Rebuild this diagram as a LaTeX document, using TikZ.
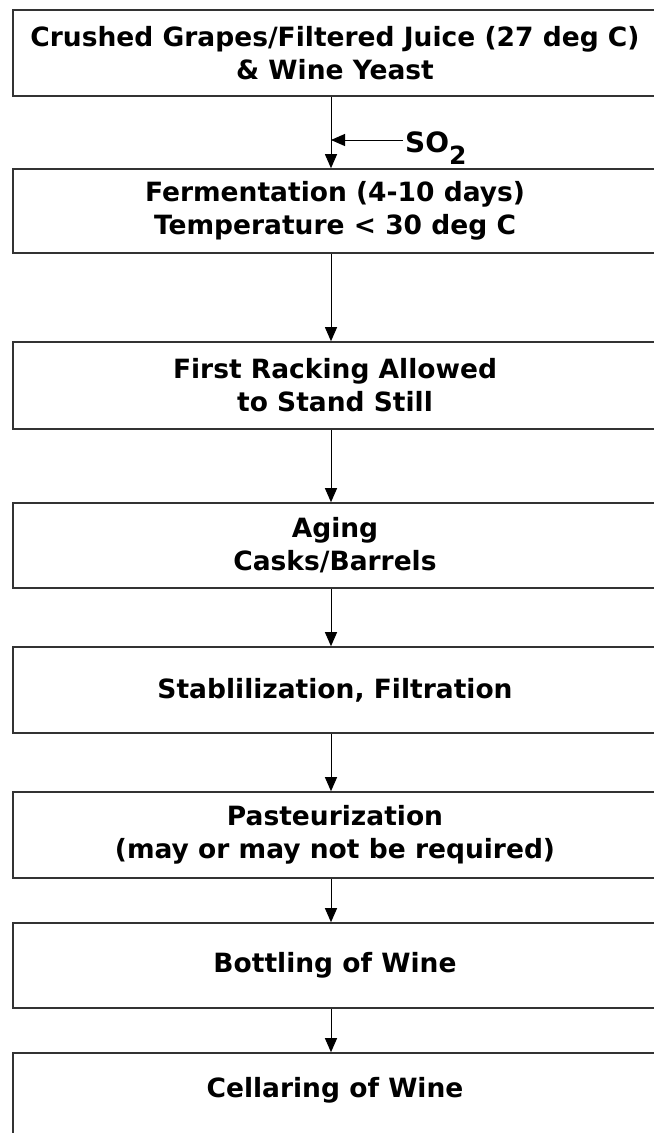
\documentclass[tikz,border=0pt]{standalone}
\usepackage{fontspec}
\setmainfont{DejaVu Sans}
\usetikzlibrary{arrows.meta}
\begin{document}
\begin{tikzpicture}[x=1bp,y=-1bp,
  stepbox/.style={draw=black!80, line width=1.6bp, minimum width=644bp, inner sep=0pt,
    align=center, font=\fontsize{26.5bp}{33bp}\selectfont\bfseries},
  lbl/.style={inner sep=0pt, align=center, font=\fontsize{26.5bp}{33bp}\selectfont\bfseries},
  arr/.style={draw=black, line width=1bp, -{Triangle[width=12bp,length=14bp]}}
]
\useasboundingbox (0,0) rectangle (654,1133);
\coordinate (ax) at (331,0);

\node[stepbox, minimum height=86bp] (b1) at (335,53) {Crushed Grapes/Filtered Juice (27 deg C)\\ \& Wine Yeast};
\node[stepbox, minimum height=84bp] (b2) at (335,211) {Fermentation (4-10 days)\\ Temperature < 30 deg C};
\node[stepbox, minimum height=87bp] (b3) at (335,385.5) {First Racking Allowed\\ to Stand Still};
\node[stepbox, minimum height=85bp] (b4) at (335,545.5) {Aging\\ Casks/Barrels};
\node[stepbox, minimum height=86bp] (b5) at (335,690) {Stablilization, Filtration};
\node[stepbox, minimum height=86bp] (b6) at (335,835) {Pasteurization\\ (may or may not be required)};
\node[stepbox, minimum height=85bp] (b7) at (335,965.5) {Bottling of Wine};
\node[stepbox, minimum height=88bp] (b8) at (335,1097) {};
\node[lbl] (t8) at (335,1090) {Cellaring of Wine};

\node[lbl, anchor=base west, font=\fontsize{28bp}{33bp}\selectfont\bfseries] (so2) at (405,152)
  {SO\raisebox{-12bp}{\fontsize{25bp}{25bp}\selectfont 2}};
\coordinate (sosrc) at (403,140);

\draw[arr] (b1.south -| ax) -- (b2.north -| ax);
\draw[arr] (sosrc) -- (sosrc -| ax);
\draw[arr] (b2.south -| ax) -- (b3.north -| ax);
\draw[arr] (b3.south -| ax) -- (b4.north -| ax);
\draw[arr] (b4.south -| ax) -- (b5.north -| ax);
\draw[arr] (b5.south -| ax) -- (b6.north -| ax);
\draw[arr] (b6.south -| ax) -- (b7.north -| ax);
\draw[arr] (b7.south -| ax) -- (b8.north -| ax);
\end{tikzpicture}
\end{document}
